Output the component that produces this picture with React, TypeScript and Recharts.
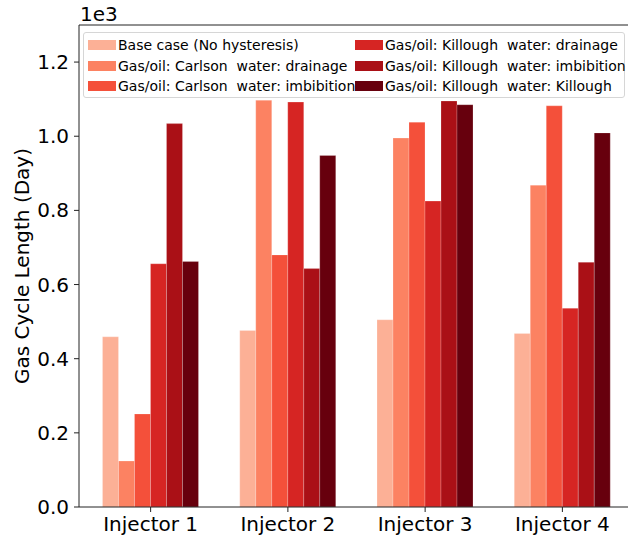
import { BarChart, Bar, XAxis, YAxis, ReferenceLine } from 'recharts';

const categories = ['Injector 1', 'Injector 2', 'Injector 3', 'Injector 4'];

const seriesNames = [
  'Base case (No hysteresis)',
  'Gas/oil: Carlson  water: drainage',
  'Gas/oil: Carlson  water: imbibition',
  'Gas/oil: Killough  water: drainage',
  'Gas/oil: Killough  water: imbibition',
  'Gas/oil: Killough  water: Killough',
];

// gas cycle length in days, per injector
const baseCase = [459, 476, 505, 468];
const carlsonDrainage = [124, 1097, 995, 868];
const carlsonImbibition = [251, 680, 1038, 1082];
const killoughDrainage = [656, 1092, 825, 536];
const killoughImbibition = [1034, 643, 1095, 660];
const killoughKillough = [662, 948, 1085, 1009];

const yTicks = [0, 200, 400, 600, 800, 1000, 1200];

const colors = ['#fcb096', '#fc8262', '#f4503a', '#d62523', '#aa1016', '#67000d'];

const series = [baseCase, carlsonDrainage, carlsonImbibition, killoughDrainage, killoughImbibition, killoughKillough];

const data = categories.map((name, i) => {
  const row: Record<string, string | number> = { name };
  series.forEach((s, k) => {
    row['s' + k] = s[i];
  });
  return row;
});

const font = '"DejaVu Sans", sans-serif';

export default function App() {
  return (
    <div style={{ position: 'absolute', left: 0, top: 0, width: 628, height: 539, overflow: 'hidden', background: '#fff', fontFamily: font }}>
      <BarChart
        width={640}
        height={539}
        data={data}
        margin={{ top: 25, right: 6, left: 0, bottom: 0 }}
        barCategoryGap={20.5}
        barGap={0}
      >
        <XAxis
          dataKey="name"
          height={32}
          padding={{ left: 3, right: 3 }}
          tickSize={5}
          tickMargin={5}
          tick={{ fill: '#000', fontSize: 20, fontFamily: font }}
          axisLine={{ stroke: '#222' }}
          tickLine={{ stroke: '#222' }}
        />
        <YAxis
          width={79}
          domain={[0, 1300]}
          ticks={yTicks}
          interval={0}
          tickSize={5}
          tickMargin={5}
          tickFormatter={(v: number) => (v / 1000).toFixed(1)}
          tick={{ fill: '#000', fontSize: 20, fontFamily: font }}
          axisLine={{ stroke: '#222' }}
          tickLine={{ stroke: '#222' }}
          label={{
            value: 'Gas Cycle Length (Day)',
            angle: -90,
            position: 'center',
            dx: -18,
            style: { fill: '#000', fontSize: 20, fontFamily: font, textAnchor: 'middle' },
          }}
        />
        <ReferenceLine y={1300} stroke="#222" />
        {series.map((_, k) => (
          <Bar
            key={k}
            dataKey={'s' + k}
            name={seriesNames[k]}
            fill={colors[k]}
            stroke="#ffffff"
            strokeOpacity={0.35}
            strokeWidth={0.6}
            isAnimationActive={false}
          />
        ))}
      </BarChart>

      <div style={{ position: 'absolute', left: 80, top: 3, fontSize: 20, lineHeight: '22px', color: '#000' }}>1e3</div>

      <div
        style={{
          position: 'absolute',
          left: 83,
          top: 32,
          width: 542,
          height: 66,
          boxSizing: 'border-box',
          border: '1px solid #d6d6d6',
          borderRadius: 3,
          background: 'rgba(255,255,255,0.8)',
          fontSize: 14,
          color: '#000',
        }}
      >
        {seriesNames.map((n, k) => (
          <div
            key={k}
            style={{
              position: 'absolute',
              left: k < 3 ? 4 : 271,
              top: 2 + (k % 3) * 20.5,
              height: 20,
              display: 'flex',
              alignItems: 'center',
              whiteSpace: 'pre',
            }}
          >
            <span style={{ display: 'inline-block', width: 28, height: 10, background: colors[k], marginRight: 2 }} />
            <span>{n}</span>
          </div>
        ))}
      </div>
    </div>
  );
}
